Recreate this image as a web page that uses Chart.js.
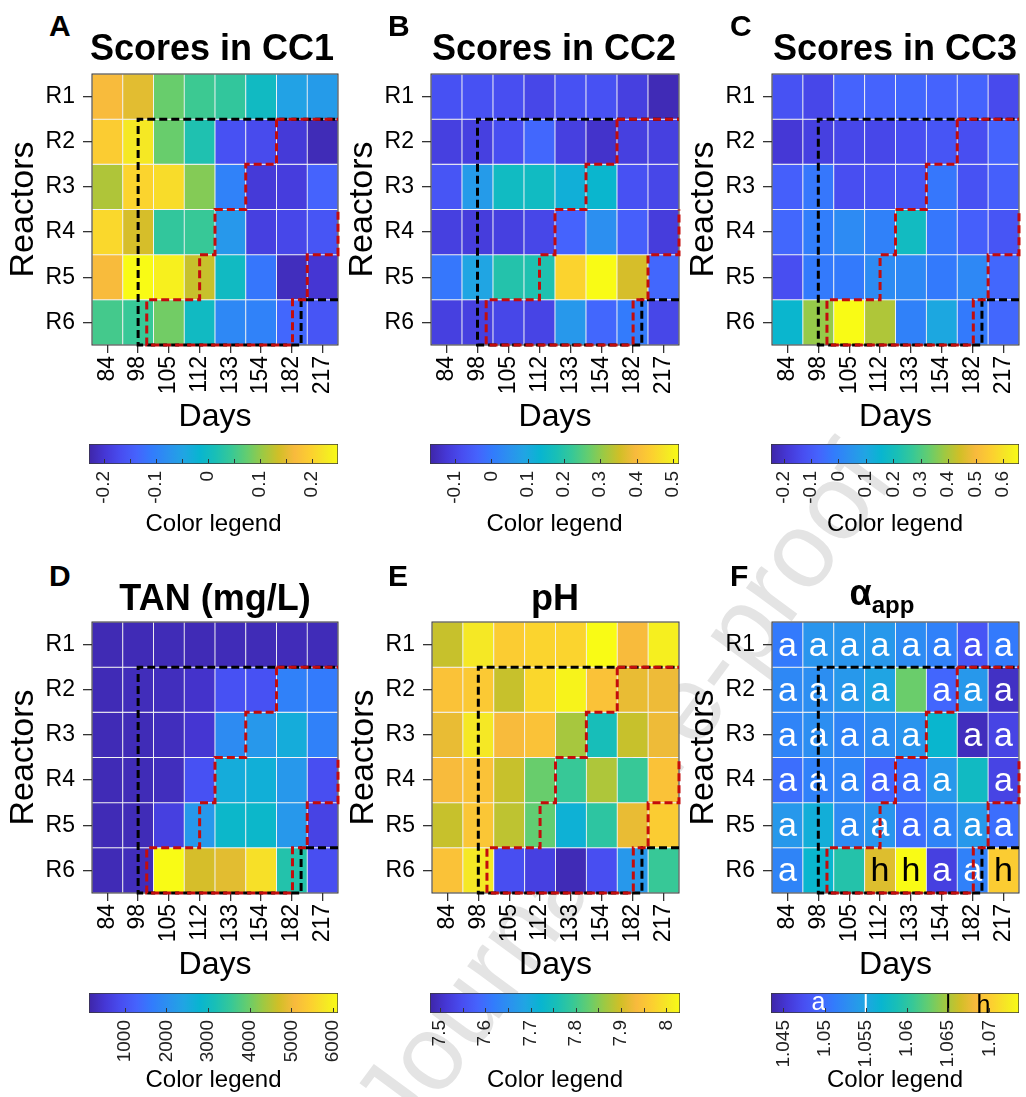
<!DOCTYPE html>
<html>
<head>
<meta charset="utf-8">
<script src="https://cdn.jsdelivr.net/npm/chart.js"></script>
<style>
  body { margin: 0; background: #fff; font-family: "Liberation Sans", Arial, sans-serif; }
  #page { position: relative; width: 1026px; height: 1097px; overflow: hidden; background: #fff; }
  canvas { position: absolute; z-index: 1; }
  .lbl { position: absolute; font-weight: bold; line-height: 1; white-space: nowrap; z-index: 2; color: #000; }
  .letter { font-size: 30px; }
  .title { font-size: 36px; width: 400px; text-align: center; }
  #mark { position: absolute; left: 622px; top: 790px; font-size: 107px; line-height: 1; color: #e4e4e4;
          white-space: nowrap; transform: translate(-50%, -50%) rotate(-53.6deg); z-index: 0; }
</style>
</head>
<body>
<div id="page"><div id="mark">Journal Pre-proof</div></div>
<script>
// categories
const days = ['84', '98', '105', '112', '133', '154', '182', '217'];
const reactors = ['R1', 'R2', 'R3', 'R4', 'R5', 'R6'];

// values (rows R1..R6, columns = days)
const cc1 = [
  [0.169, 0.150, 0.078, 0.049, 0.040, 0.001, -0.051, -0.061],
  [0.193, 0.227, 0.078, 0.021, -0.162, -0.171, -0.195, -0.219],
  [0.117, 0.203, 0.213, 0.093, -0.099, -0.195, -0.190, -0.138],
  [0.208, 0.141, 0.040, 0.045, -0.066, -0.186, -0.176, -0.157],
  [0.169, 0.251, 0.237, 0.131, 0.001, -0.114, -0.215, -0.200],
  [0.054, 0.045, 0.083, 0.001, -0.090, -0.099, -0.133, -0.157]
];
const cc2 = [
  [-0.073, -0.073, -0.080, -0.094, -0.073, -0.073, -0.107, -0.155],
  [-0.107, -0.107, -0.080, -0.032, -0.107, -0.135, -0.107, -0.107],
  [-0.066, 0.071, 0.160, 0.160, 0.119, 0.140, -0.073, -0.094],
  [-0.107, -0.114, -0.107, -0.094, -0.039, 0.044, -0.046, -0.114],
  [-0.004, 0.092, 0.195, 0.188, 0.448, 0.517, 0.359, -0.032],
  [-0.107, -0.107, -0.094, -0.100, 0.064, -0.032, 0.003, -0.094]
];
const cc3 = [
  [-0.119, -0.147, -0.074, -0.074, -0.065, -0.074, -0.074, -0.138],
  [-0.187, -0.165, -0.147, -0.147, -0.128, -0.110, -0.128, -0.074],
  [-0.083, -0.029, -0.128, -0.119, -0.110, -0.029, -0.119, -0.083],
  [-0.065, -0.011, 0.025, -0.002, 0.188, -0.029, -0.083, -0.110],
  [-0.128, -0.020, -0.020, 0.025, 0.016, -0.020, 0.016, -0.065],
  [0.161, 0.378, 0.658, 0.405, -0.002, 0.107, -0.020, -0.065]
];
const tan = [
  [250, 260, 270, 260, 280, 270, 290, 280],
  [265, 295, 325, 445, 980, 980, 1760, 1640],
  [265, 270, 325, 500, 1940, 2175, 2590, 1760],
  [265, 270, 325, 980, 2590, 2650, 2175, 920],
  [265, 270, 680, 2175, 2890, 2890, 2175, 740],
  [265, 295, 6116, 4740, 4860, 5700, 3310, 920]
];
const ph = [
  [7.892, 8.002, 7.964, 7.975, 7.975, 8.030, 7.936, 8.013],
  [7.947, 7.958, 7.892, 7.980, 8.019, 7.947, 7.920, 7.925],
  [7.920, 8.002, 7.936, 7.947, 7.870, 7.754, 7.892, 7.925],
  [7.936, 7.947, 7.892, 7.831, 7.793, 7.875, 7.793, 7.947],
  [7.892, 7.953, 7.886, 7.826, 7.715, 7.782, 7.920, 7.964],
  [7.947, 8.002, 7.550, 7.528, 7.489, 7.550, 7.666, 7.793]
];
const alpha = [
  [1.0510, 1.0534, 1.0534, 1.0537, 1.0525, 1.0516, 1.0480, 1.0510],
  [1.0522, 1.0528, 1.0537, 1.0549, 1.0628, 1.0495, 1.0537, 1.0447],
  [1.0519, 1.0528, 1.0519, 1.0528, 1.0534, 1.0570, 1.0444, 1.0465],
  [1.0501, 1.0516, 1.0519, 1.0495, 1.0501, 1.0537, 1.0579, 1.0465],
  [1.0537, 1.0561, 1.0525, 1.0534, 1.0501, 1.0519, 1.0537, 1.0501],
  [1.0519, 1.0570, 1.0595, 1.0670, 1.0736, 1.0462, 1.0516, 1.0700]
];
const alphaGroups = [
  ['a', 'a', 'a', 'a', 'a', 'a', 'a', 'a'],
  ['a', 'a', 'a', 'a', '', 'a', 'a', 'a'],
  ['a', 'a', 'a', 'a', 'a', '', 'a', 'a'],
  ['a', 'a', 'a', 'a', 'a', 'a', '', 'a'],
  ['a', '', 'a', 'a', 'a', 'a', 'a', 'a'],
  ['a', '', '', 'h', 'h', 'a', 'a', 'h']
];
const alphaCuts = [1.055, 1.065];

// colour scale ranges and tick labels
const cc1Range = [-0.229, 0.251], cc1Ticks = [-0.2, -0.1, 0, 0.1, 0.2];
const cc1Marks = [-0.2, -0.15, -0.1, -0.05, 0, 0.05, 0.1, 0.15, 0.2];
const cc2Range = [-0.169, 0.517], cc2Ticks = [-0.1, 0, 0.1, 0.2, 0.3, 0.4, 0.5];
const cc3Range = [-0.246, 0.658], cc3Ticks = [-0.2, -0.1, 0, 0.1, 0.2, 0.3, 0.4, 0.5, 0.6];
const tanRange = [146, 6116], tanTicks = [1000, 2000, 3000, 4000, 5000, 6000];
const phRange = [7.478, 8.03], phTicks = [7.5, 7.6, 7.7, 7.8, 7.9, 8];
const phMarks = [7.5, 7.55, 7.6, 7.65, 7.7, 7.75, 7.8, 7.85, 7.9, 7.95, 8];
const alphaRange = [1.0435, 1.0736], alphaTicks = [1.045, 1.05, 1.055, 1.06, 1.065, 1.07];

// period outlines, in cell units (column index, row index)
const blackPath = [[7.5, 4.5], [6.3, 4.5], [6.3, 5.5], [1, 5.5], [1, 0.5], [7.5, 0.5]];
const redStairs = [[5.5, 0.5], [5.5, 1.5], [4.5, 1.5], [4.5, 2.5], [3.5, 2.5], [3.5, 3.5], [3, 3.5], [3, 4.5],
  [1.28, 4.5], [1.28, 5.5], [6.02, 5.5], [6.02, 4.5], [6.5, 4.5], [6.5, 3.5], [7.5, 3.5], [7.5, 2.5]];
const redTop = [[5.5, 0.5], [7.5, 0.5]];

// parula colormap
const parula = [[62,38,168],[69,55,213],[72,77,240],[69,99,253],[50,124,252],[43,145,239],[32,165,227],
  [8,181,208],[25,191,182],[55,200,151],[100,205,111],[157,201,67],[209,191,39],[248,186,61],
  [252,207,48],[245,233,36],[249,251,21]];
const parulaPos = [0,4,8,12,16,20,24,28,32,36,40,44,48,52,56,60,63].map(i => i / 63);

function parulaColor(v, range) {
  let t = (v - range[0]) / (range[1] - range[0]);
  t = Math.min(1, Math.max(0, t));
  for (let i = 1; i < parulaPos.length; i++) {
    if (t <= parulaPos[i]) {
      const f = (t - parulaPos[i - 1]) / (parulaPos[i] - parulaPos[i - 1]);
      const a = parula[i - 1], b = parula[i];
      return 'rgb(' + a.map((c, k) => Math.round(c + (b[k] - c) * f)).join(',') + ')';
    }
  }
  return 'rgb(249,251,21)';
}

const FONT = '"Liberation Sans", Arial, sans-serif';
Chart.defaults.font.family = FONT;
Chart.defaults.color = '#000';

const page = document.getElementById('page');

function addCanvas(left, top, w, h) {
  const c = document.createElement('canvas');
  c.width = w; c.height = h;
  c.style.left = left + 'px'; c.style.top = top + 'px';
  c.style.width = w + 'px'; c.style.height = h + 'px';
  page.appendChild(c);
  return c;
}

function addLabel(cls, html, left, baseline, size) {
  const d = document.createElement('div');
  d.className = 'lbl ' + cls;
  d.innerHTML = html;
  d.style.left = left + 'px';
  d.style.top = (baseline - 0.8465 * size) + 'px';
  page.appendChild(d);
}

const panels = [
  { letter: 'A', title: 'Scores in CC1', values: cc1, range: cc1Range, ticks: cc1Ticks, marks: cc1Marks,
    plot: { l: 92, t: 74, r: 338, b: 345 }, bar: { l: 89, t: 444, w: 249 }, lx: 49, titleX: 212, row: 0 },
  { letter: 'B', title: 'Scores in CC2', values: cc2, range: cc2Range, ticks: cc2Ticks, marks: cc2Ticks,
    plot: { l: 431, t: 74, r: 679, b: 345 }, bar: { l: 430, t: 444, w: 249 }, lx: 388, titleX: 554, row: 0 },
  { letter: 'C', title: 'Scores in CC3', values: cc3, range: cc3Range, ticks: cc3Ticks, marks: cc3Ticks,
    plot: { l: 772, t: 74, r: 1019, b: 345 }, bar: { l: 771, t: 444, w: 248 }, lx: 730, titleX: 895, row: 0 },
  { letter: 'D', title: 'TAN (mg/L)', values: tan, range: tanRange, ticks: tanTicks, marks: tanTicks,
    plot: { l: 92, t: 622, r: 338, b: 893 }, bar: { l: 89, t: 993, w: 249 }, lx: 49, titleX: 215, row: 1 },
  { letter: 'E', title: 'pH', values: ph, range: phRange, ticks: phTicks, marks: phMarks,
    plot: { l: 432, t: 622, r: 679, b: 893 }, bar: { l: 430, t: 993, w: 250 }, lx: 388, titleX: 555, row: 1 },
  { letter: 'F', title: 'α<span style="font-size:24px;position:relative;top:8px">app</span>', values: alpha,
    range: alphaRange, ticks: alphaTicks, marks: alphaTicks, groups: alphaGroups, cuts: alphaCuts,
    plot: { l: 772, t: 622, r: 1019, b: 893 }, bar: { l: 771, t: 993, w: 248 }, lx: 730, titleX: 882, row: 1 }
];

function outline(points, color, id, order) {
  return {
    type: 'line', id, xAxisID: 'xo', yAxisID: 'y', order,
    data: points.map(([x, y]) => ({ x, y })),
    borderColor: color, borderWidth: 3, borderDash: [8, 4], borderCapStyle: 'butt',
    pointRadius: 0, fill: false, tension: 0, clip: false
  };
}

function heatmap(p) {
  const w = p.plot.r - p.plot.l, h = p.plot.b - p.plot.t;
  const canvas = addCanvas(p.plot.l - 92, p.plot.t - 30, w + 122, h + 130);

  const rowSets = p.values.map((row, r) => ({
    type: 'bar', xAxisID: 'x', yAxisID: 'y', order: 3,
    data: row.map(() => [r - 0.5, r + 0.5]),
    backgroundColor: row.map(v => parulaColor(v, p.range)),
    borderColor: '#f2f2f2', borderWidth: 0.8, borderSkipped: false,
    barPercentage: 1, categoryPercentage: 1, grouped: false
  }));

  const overlay = {
    id: 'overlay',
    beforeDatasetDraw(chart, args) {
      if (chart.data.datasets[args.index].id !== 'black') return;
      const { ctx, chartArea: a, scales } = chart;
      ctx.save();
      ctx.strokeStyle = '#333';
      ctx.lineWidth = 1;
      ctx.strokeRect(a.left, a.top, a.right - a.left, a.bottom - a.top);
      if (p.groups) {
        ctx.font = '34px ' + FONT;
        ctx.textAlign = 'center';
        ctx.textBaseline = 'alphabetic';
        p.groups.forEach((row, r) => row.forEach((g, c) => {
          if (!g) return;
          ctx.fillStyle = g === 'h' ? '#000' : '#fff';
          ctx.fillText(g, scales.x.getPixelForValue(c), scales.y.getPixelForValue(r) + 11);
        }));
      }
      ctx.restore();
    }
  };

  new Chart(canvas, {
    type: 'bar',
    data: {
      labels: days,
      datasets: [
        outline(redStairs, '#c40c0c', 'red', 1),
        outline(redTop, '#c40c0c', 'redTop', 1),
        outline(blackPath, '#000', 'black', 2),
        ...rowSets
      ]
    },
    options: {
      responsive: false, animation: false, events: [],
      layout: { padding: { left: 0, top: 30, right: 30, bottom: 0 } },
      plugins: { legend: { display: false }, tooltip: { enabled: false } },
      scales: {
        x: {
          type: 'category', offset: true,
          afterFit(s) { s.height = 100; },
          grid: { offset: false, drawOnChartArea: false, tickLength: 8, color: '#333', lineWidth: 1.3 },
          border: { display: false },
          ticks: { color: '#000', font: { size: 23 }, minRotation: 90, maxRotation: 90, autoSkip: false, padding: 3 },
          title: { display: true, text: 'Days', color: '#000', font: { size: 32 }, padding: { top: 0, bottom: 9 } }
        },
        xo: { type: 'linear', axis: 'x', display: false, offset: false, grace: 0, min: -0.5, max: 7.5 },
        y: {
          type: 'linear', reverse: true, min: -0.5, max: 5.5,
          afterBuildTicks(s) { s.ticks = reactors.map((_, i) => ({ value: i })); },
          afterFit(s) { s.width = 92; },
          grid: { drawOnChartArea: false, tickLength: 9, color: '#333', lineWidth: 1.3 },
          border: { display: false },
          ticks: { color: '#000', font: { size: 23 }, padding: 8, callback: v => reactors[v] },
          title: { display: true, text: 'Reactors', color: '#000', font: { size: 34 }, padding: { top: 3.6, bottom: 0 } }
        }
      }
    },
    plugins: [overlay]
  });
}

function colorbar(p) {
  const b = p.bar;
  const canvas = addCanvas(b.l - 30, b.t, b.w + 60, 110);

  const gradient = ctx => {
    const a = ctx.chart.chartArea;
    if (!a) return null;
    const g = ctx.chart.ctx.createLinearGradient(a.left, 0, a.right, 0);
    parula.forEach((c, i) => g.addColorStop(parulaPos[i], 'rgb(' + c.join(',') + ')'));
    return g;
  };

  const marks = {
    id: 'marks',
    afterDatasetsDraw(chart) {
      const { ctx, chartArea: a, scales } = chart;
      const mid = (a.top + a.bottom) / 2;
      ctx.save();
      if (p.cuts) {
        ctx.lineWidth = 2;
        p.cuts.forEach((v, i) => {
          const x = scales.x.getPixelForValue(v);
          ctx.strokeStyle = i === 0 ? '#fff' : '#000';
          ctx.beginPath(); ctx.moveTo(x, a.top + 1); ctx.lineTo(x, a.bottom - 1); ctx.stroke();
        });
        ctx.font = '25px ' + FONT;
        ctx.textAlign = 'center';
        ctx.fillStyle = '#fff';
        ctx.fillText('a', scales.x.getPixelForValue((p.range[0] + p.cuts[0]) / 2), mid + 7);
        ctx.fillStyle = '#000';
        ctx.fillText('h', scales.x.getPixelForValue((p.cuts[1] + p.range[1]) / 2), mid + 10);
      }
      ctx.strokeStyle = '#333';
      ctx.lineWidth = 1;
      p.marks.forEach(v => {
        const x = Math.round(scales.x.getPixelForValue(v)) + 0.5;
        ctx.beginPath(); ctx.moveTo(x, a.bottom - 1); ctx.lineTo(x, a.bottom - 5); ctx.stroke();
      });
      ctx.restore();
    }
  };

  new Chart(canvas, {
    type: 'bar',
    data: {
      labels: ['bar'],
      datasets: [{
        data: [p.range], backgroundColor: gradient, borderColor: '#3a3a3a', borderWidth: 1,
        borderSkipped: false, barPercentage: 1, categoryPercentage: 1
      }]
    },
    options: {
      indexAxis: 'y', responsive: false, animation: false, events: [],
      layout: { padding: { left: 30, right: 30, top: 0, bottom: 0 } },
      plugins: { legend: { display: false }, tooltip: { enabled: false } },
      scales: {
        y: { display: false },
        x: {
          type: 'linear', min: p.range[0], max: p.range[1], offset: false,
          afterBuildTicks(s) { s.ticks = p.ticks.map(v => ({ value: v })); },
          afterFit(s) { s.height = 90; },
          grid: { display: false, drawTicks: false },
          border: { display: false },
          ticks: { color: '#222', font: { size: 19 }, minRotation: 90, maxRotation: 90, autoSkip: false, padding: 7,
                   callback: v => String(v) },
          title: { display: true, text: 'Color legend', color: '#000', font: { size: 24 },
                   padding: { top: 0, bottom: p.row === 0 ? 15 : 8 } }
        }
      }
    },
    plugins: [marks]
  });
}

panels.forEach(p => {
  const base = p.row === 0 ? 0 : 550;
  addLabel('letter', p.letter, p.lx, 36 + base, 30);
  const tb = p.groups ? 605 : 60 + base;
  const d = document.createElement('div');
  d.className = 'lbl title';
  d.innerHTML = p.title;
  d.style.left = (p.titleX - 200) + 'px';
  d.style.top = (tb - 0.8465 * 36) + 'px';
  page.appendChild(d);
  heatmap(p);
  colorbar(p);
});
</script>
</body>
</html>
